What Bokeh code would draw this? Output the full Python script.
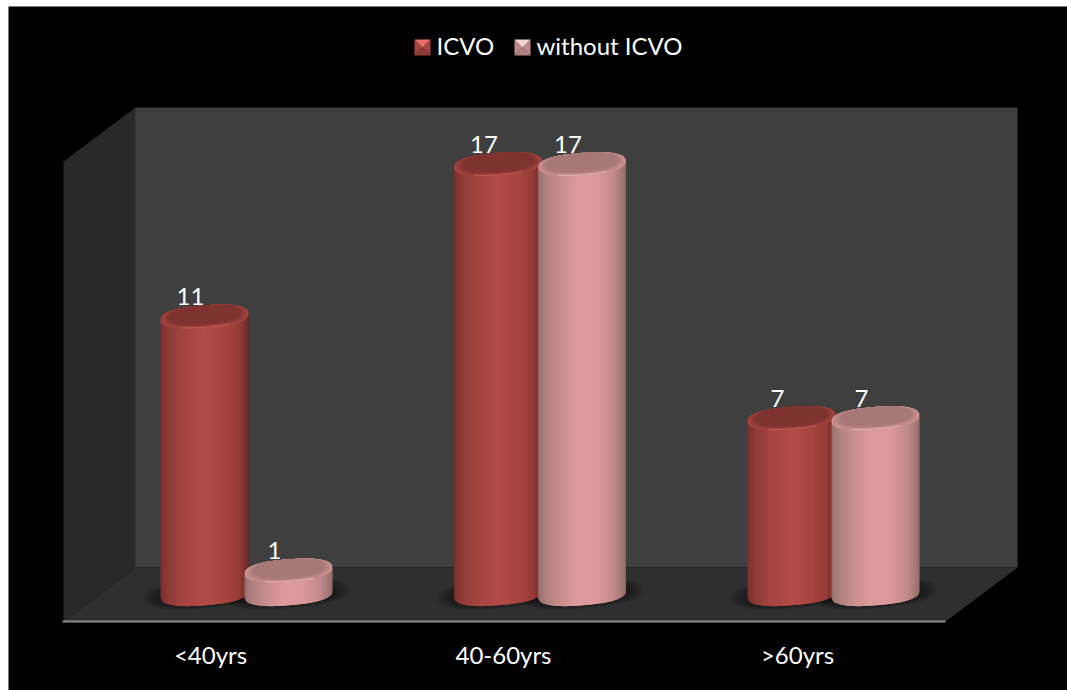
import numpy as np
from bokeh.core.properties import value
from bokeh.embed import file_html
from bokeh.models import Range1d
from bokeh.plotting import figure
from bokeh.resources import INLINE

# Chart data
categories = ["<40yrs", "40-60yrs", ">60yrs"]
icvo = [11, 17, 7]
without_icvo = [1, 17, 7]
series_names = ["ICVO", "without ICVO"]

# Layout, in page pixels
W, H = 1067, 690
LEFT, TOP = 8, 6
PX_PER_UNIT = 25.4
BASE_PY = 595.5
FOOT_LIFT = 2.0
GROUP0_PX = 246
GROUP_PITCH = 293.5
BAR_OFFSET = 42
A, B = 44.0, 11.3
TILT = np.radians(4.5)
ROUNDNESS = 2.45
FONT = value("Lato")


def X(px):
    return (np.asarray(px, dtype=float) - GROUP0_PX) / GROUP_PITCH


def Y(py):
    return (BASE_PY - np.asarray(py, dtype=float)) / PX_PER_UNIT


p = figure(
    width=W, height=H, output_backend="svg", toolbar_location=None,
    x_range=Range1d(float(X(LEFT)), float(X(W))),
    y_range=Range1d(float(Y(H)), float(Y(TOP))),
    min_border_left=LEFT, min_border_top=TOP, min_border_right=0, min_border_bottom=0,
    background_fill_color="#000000", border_fill_color="#ffffff",
    x_axis_location=None, y_axis_location=None,
)
p.grid.visible = False
p.outline_line_color = None


def poly(pts, color, **kw):
    xs, ys = zip(*pts)
    p.patch(X(xs), Y(ys), fill_color=color, line_color=None, **kw)


# Box walls and floor
poly([(135, 107), (1017, 107), (1017, 567), (135, 567)], "#3f3f3f")
poly([(63, 161), (135, 107), (135, 567), (63, 621)], "#292929")
poly([(135, 567), (1017, 567), (945, 621), (63, 621)], "#2f2f2f")
p.line(X([62, 945]), Y([621, 621]), line_color="#8c8c8c", line_width=2)
p.line(X([135, 135]), Y([107, 567]), line_color="#383838", line_width=1)


def ellipse_xy(a, b, t):
    """Offsets in pixels (right, up) of a slightly squared, tilted ellipse at parameter t."""
    c, s = np.cos(t), np.sin(t)
    ex = a * np.sign(c) * np.abs(c) ** (2 / ROUNDNESS)
    ey = b * np.sign(s) * np.abs(s) ** (2 / ROUNDNESS)
    return ex * np.cos(TILT) - ey * np.sin(TILT), ex * np.sin(TILT) + ey * np.cos(TILT)


def mix(stops, u):
    pos = [s[0] for s in stops]
    rgb = [tuple(int(s[1][i:i + 2], 16) for i in (1, 3, 5)) for s in stops]
    return "#%02x%02x%02x" % tuple(int(round(np.interp(u, pos, [c[k] for c in rgb]))) for k in range(3))


RED = {
    "body": [(-1, "#7e312e"), (-0.8, "#913b38"), (-0.45, "#a64541"), (0.0, "#b24b47"),
             (0.45, "#a8453f"), (0.78, "#973c38"), (1, "#6e2a28")],
    "rim": "#a8453f", "cap": "#7e3331", "glow": "#c8615a",
    "face": ("#ea6f69", "#a4453f", "#a4453f", "#8f3b38"),
}
PINK = {
    "body": [(-1, "#9a7472"), (-0.8, "#b08280"), (-0.45, "#cb8f8f"), (-0.1, "#dd9a9c"), (0.3, "#dd9a9c"),
             (0.7, "#c48b8b"), (1, "#95706e")],
    "rim": "#cf9392", "cap": "#a67978", "glow": "#f0b9b9",
    "face": ("#f6d4d4", "#c08a8a", "#c08a8a", "#b38382"),
}


def shadow(cx):
    t = np.linspace(0, 2 * np.pi, 60)
    for k in np.linspace(1.0, 0.62, 12):
        dx, dy = ellipse_xy(62 * k, 14.5 * k, t)
        p.patch(cx + dx / GROUP_PITCH, (dy + FOOT_LIFT) / PX_PER_UNIT,
                fill_color="#000000", fill_alpha=0.055, line_color=None)


def cylinder(cx, v, style):
    # Shaded body: strips painted left to right, each running under the next so no seams show
    t = np.linspace(np.pi * 1.0, np.pi * 2.0, 73)
    for i in range(len(t) - 1):
        j = min(i + 2, len(t) - 1)
        dx, dy = ellipse_xy(A, B, t[[i, j]])
        sx = dx / GROUP_PITCH
        sy = dy / PX_PER_UNIT
        foot = FOOT_LIFT / PX_PER_UNIT
        mid, _ = ellipse_xy(A, B, (t[i] + t[i + 1]) / 2)
        col = mix(style["body"], mid / A)
        p.patch(
            [cx + sx[0], cx + sx[1], cx + sx[1], cx + sx[0]],
            [foot + sy[0], foot + sy[1], v + sy[1], v + sy[0]],
            fill_color=col, line_color=None,
        )
    # Bevelled cap
    tt = np.linspace(0, 2 * np.pi, 120)
    for k in np.linspace(0, 1, 14):
        sc = 1 - 0.2 * k
        dx, dy = ellipse_xy(A * sc, B * sc, tt)
        col = mix([(0, style["rim"]), (1, style["cap"])], k)
        p.patch(cx + dx / GROUP_PITCH, v + (dy + 2.0 * k) / PX_PER_UNIT, fill_color=col, line_color=None)
    # Light catching the front edge of the cap
    ta = np.linspace(1.34 * np.pi, 1.66 * np.pi, 24)
    dx, dy = ellipse_xy(A, B, ta)
    p.line(cx + dx / GROUP_PITCH, v + (dy + 0.8) / PX_PER_UNIT, line_color=style["glow"], line_width=1.4, line_alpha=0.7)


offset = BAR_OFFSET / GROUP_PITCH
for g in range(len(categories)):
    shadow(g - offset)
    shadow(g + offset)
for g in range(len(categories)):
    cylinder(g - offset, icvo[g], RED)
    cylinder(g + offset, without_icvo[g], PINK)

# Value labels, sitting just above each cap
label_dx = -14 / GROUP_PITCH
label_lift = 11.5 / PX_PER_UNIT
for g in range(len(categories)):
    for dx, v in ((-offset, icvo[g]), (offset, without_icvo[g])):
        p.text([g + dx + label_dx], [v + label_lift], text=[str(v)], text_color="#ffffff",
               text_font=FONT, text_font_size="24px", text_align="center", text_baseline="bottom")

# Category labels
p.text(X([210, 503, 797]), [float(Y(653.5))] * 3, text=categories, text_color="#ffffff",
       text_font=FONT, text_font_size="24px", text_align="center", text_baseline="middle")


def legend_swatch(x0, faces):
    x1, y0, y1 = x0 + 16, 39, 55
    mx, my = x0 + 8, 47
    top, left, right, bottom = faces
    poly([(x0, y0), (x0, y1), (mx, my)], left)
    poly([(x1, y0), (x1, y1), (mx, my)], right)
    poly([(x0, y1), (x1, y1), (mx, my)], bottom)
    poly([(x0, y0), (x1, y0), (mx, my)], top)


legend_swatch(414, RED["face"])
legend_swatch(514, PINK["face"])
p.text(X([436, 536]), [float(Y(44.5))] * 2, text=series_names, text_color="#ffffff",
       text_font=FONT, text_font_size="24px", text_align="left", text_baseline="middle")

open("out.html", "w").write(file_html(p, INLINE))
